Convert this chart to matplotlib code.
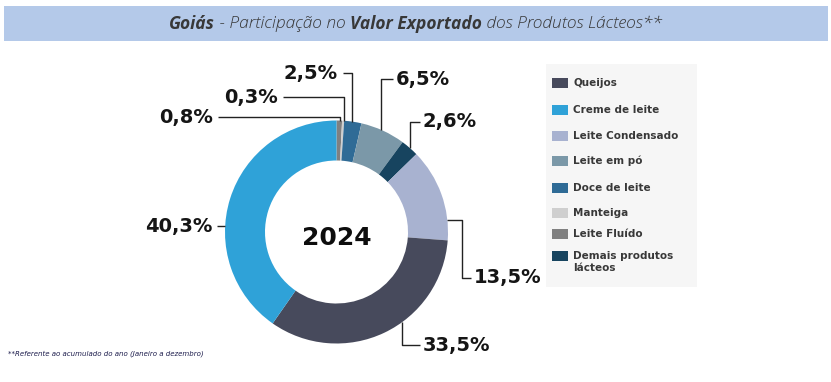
import matplotlib
matplotlib.use("Agg")
import matplotlib.pyplot as plt
from matplotlib.patches import Rectangle
import numpy as np

# data (pie order, clockwise from the top)
pie_labels = ["Leite Fluído", "Manteiga", "Doce de leite", "Leite em pó",
              "Demais produtos\nlácteos", "Leite Condensado", "Queijos", "Creme de leite"]
pie_values = [0.8, 0.3, 2.5, 6.5, 2.6, 13.5, 33.5, 40.3]

# legend order
legend_labels = ["Queijos", "Creme de leite", "Leite Condensado", "Leite em pó",
                 "Doce de leite", "Manteiga", "Leite Fluído", "Demais produtos\nlácteos"]

colors = {
    "Queijos": "#474a5c",
    "Creme de leite": "#2fa2d8",
    "Leite Condensado": "#a8b2d0",
    "Leite em pó": "#7b98a8",
    "Doce de leite": "#2f6b96",
    "Manteiga": "#cfcfcf",
    "Leite Fluído": "#808080",
    "Demais produtos\nlácteos": "#17445f",
}

year = "2024"

W, H = 831, 382
fig = plt.figure(figsize=(W / 100, H / 100), dpi=100)
ax = fig.add_axes([0, 0, 1, 1])

def py(y):
    # top-down pixel -> axes units
    return H - y

# title band
ax.add_patch(Rectangle((4, py(41)), 824, 35, color="#b4c9e9", lw=0, zorder=0))

# donut
cx, cy = 336.5, py(232)
R, r_in = 111.5, 71.5
ax.pie(pie_values, colors=[colors[l] for l in pie_labels], startangle=90,
       counterclock=False, radius=R, center=(cx, cy),
       wedgeprops=dict(width=R - r_in, linewidth=0))
ax.set_xlim(0, W)
ax.set_ylim(0, H)
ax.set_aspect("auto")
ax.axis("off")

ax.text(cx, cy - 6, year, ha="center", va="center", fontsize=18,
        fontweight="heavy", color="#0d0d0d")

# leader lines: (fraction inside wedge, route, label y, line end x, elbow x)
leaders = [
    (0.6, "up-left", 117, 218, None),
    (0.9, "up-left", 97, 283, None),
    (0.45, "up-left", 73, 343, None),
    (0.45, "up-right", 79, 393, None),
    (0.5, "up-right", 122, 420, None),
    (0.78, "right-down", 278, 471, 462),
    (0.41, "down-right", 345, 420, None),
    (0.40, "left", None, 217, None),
]

cum = np.concatenate([[0], np.cumsum(pie_values)])
for i, (frac, route, ly, ex, elx) in enumerate(leaders):
    th = np.deg2rad(360 * (cum[i] + frac * pie_values[i]) / 100)
    axx, ayy = cx + R * np.sin(th), cy + R * np.cos(th)
    if route in ("up-left", "up-right", "down-right"):
        xs, ys = [axx, axx, ex], [ayy, py(ly), py(ly)]
    elif route == "right-down":
        xs, ys = [axx, elx, elx, ex], [ayy, ayy, py(ly), py(ly)]
    else:
        xs, ys = [axx, ex], [ayy, ayy]
    ax.plot(xs, ys, color="#222222", lw=1.0, solid_capstyle="butt")
    txt = f"{pie_values[i]:.1f}%".replace(".", ",")
    if route.endswith("left"):
        ax.text(ex - 5, ys[-1], txt, ha="right", va="center", fontsize=14,
                fontweight="heavy", color="#151515")
    else:
        ax.text(ex + 3, ys[-1], txt, ha="left", va="center", fontsize=14,
                fontweight="heavy", color="#151515")

# legend box
ax.add_patch(Rectangle((546, py(287)), 151, 223, color="#f6f6f6", lw=0, zorder=0))
leg_y = [83, 110, 136, 161, 188, 213, 234, 256]
for lab, y in zip(legend_labels, leg_y):
    ax.add_patch(Rectangle((552, py(y + 5)), 16, 10, color=colors[lab], lw=0))
    ax.text(573, py(y - 5), lab, ha="left", va="top", fontsize=7.5,
            fontweight="bold", color="#383838", linespacing=1.25)

# title, mixed weights
pieces = [("Goiás", "bold"), (" - Participação no ", "light"),
          ("Valor Exportado", "bold"), (" dos Produtos Lácteos**", "light")]
renderer = fig.canvas.get_renderer()
texts = []
for s, w in pieces:
    t = ax.text(0, py(24), s, ha="left", va="center", fontsize=12.5,
                family="Open Sans", style="italic", fontweight=w, color="#383838")
    texts.append(t)
widths = [t.get_window_extent(renderer).width for t in texts]
x = 415.5 - sum(widths) / 2
for t, wd in zip(texts, widths):
    t.set_x(x)
    x += wd

ax.text(8, py(354), "**Referente ao acumulado do ano (Janeiro a dezembro)",
        ha="left", va="center", fontsize=5, style="italic", color="#1b1b4b")

fig.savefig("out.png", dpi=100)
